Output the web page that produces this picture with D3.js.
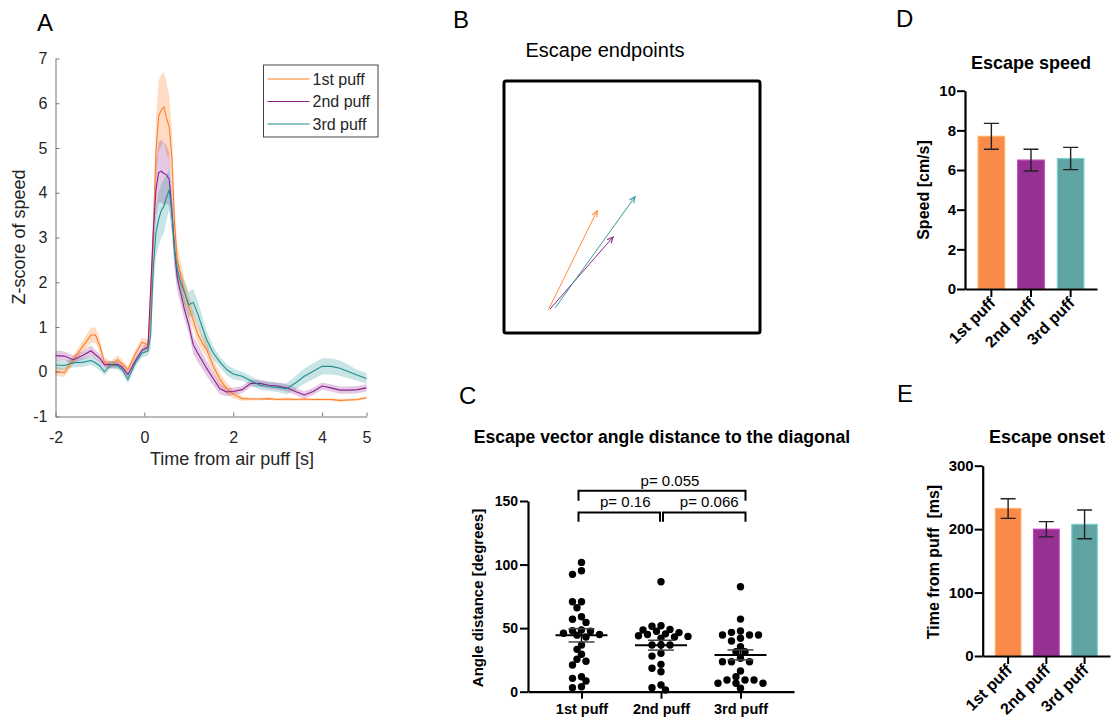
<!DOCTYPE html>
<html>
<head>
<meta charset="utf-8">
<script src="https://cdn.jsdelivr.net/npm/d3@7"></script>
<style>
  body { margin: 0; background: #fff; }
  text { font-family: "Liberation Sans", Arial, sans-serif; }
</style>
</head>
<body>
<div id="chart"></div>
<script>
// ---- data ----
const puffs = ["1st puff", "2nd puff", "3rd puff"];

// panel A: z-scored speed around the air puff (mean and sem per puff)
const time = [-2, -1.8, -1.6, -1.4, -1.2, -1.1, -1.0, -0.9, -0.75, -0.6, -0.5, -0.37, -0.2, -0.05, 0.08, 0.14,
              0.2, 0.26, 0.32, 0.38, 0.44, 0.5, 0.56, 0.62, 0.68, 0.74, 0.8, 0.9, 1.0, 1.1, 1.2, 1.3, 1.4, 1.55,
              1.7, 1.85, 2.0, 2.2, 2.4, 2.6, 2.8, 3.0, 3.2, 3.4, 3.6, 3.8, 4.0, 4.2, 4.4, 4.6, 4.8, 5.0];
const zPuff1 = [0.01, -0.02, 0.27, 0.55, 0.82, 0.82, 0.57, 0.22, 0.16, 0.27, 0.18, 0.05, 0.40, 0.66, 0.60, 1.20,
                3.00, 4.90, 5.70, 5.85, 5.92, 5.66, 5.47, 4.80, 3.30, 2.50, 2.24, 1.80, 1.45, 1.16, 0.85, 0.65, 0.50, 0.13,
                -0.17, -0.37, -0.50, -0.60, -0.61, -0.61, -0.60, -0.62, -0.61, -0.62, -0.61, -0.62, -0.62, -0.62, -0.64, -0.63, -0.62, -0.58];
const semPuff1 = [0.10, 0.10, 0.10, 0.12, 0.17, 0.17, 0.15, 0.10, 0.08, 0.10, 0.08, 0.08, 0.10, 0.10, 0.12, 0.30,
                  0.50, 0.70, 0.80, 0.80, 0.78, 0.80, 0.70, 0.60, 0.45, 0.35, 0.30, 0.28, 0.25, 0.22, 0.20, 0.18, 0.17, 0.15,
                  0.15, 0.13, 0.10, 0.05, 0.03, 0.03, 0.03, 0.03, 0.03, 0.03, 0.03, 0.03, 0.03, 0.03, 0.03, 0.03, 0.03, 0.03];
const zPuff2 = [0.36, 0.35, 0.27, 0.36, 0.47, 0.38, 0.30, 0.16, 0.16, 0.16, 0.10, -0.06, 0.25, 0.48, 0.55, 1.80,
                3.10, 4.05, 4.45, 4.48, 4.43, 4.40, 4.30, 3.60, 2.70, 2.10, 1.83, 1.40, 1.05, 0.60, 0.42, 0.25, 0.08, -0.15,
                -0.38, -0.45, -0.44, -0.40, -0.26, -0.26, -0.30, -0.32, -0.36, -0.44, -0.52, -0.44, -0.32, -0.36, -0.41, -0.41, -0.40, -0.36];
const semPuff2 = [0.12, 0.10, 0.10, 0.10, 0.12, 0.10, 0.10, 0.08, 0.08, 0.08, 0.08, 0.08, 0.08, 0.08, 0.10, 0.30,
                  0.50, 0.60, 0.68, 0.70, 0.70, 0.65, 0.60, 0.50, 0.40, 0.30, 0.25, 0.22, 0.20, 0.20, 0.20, 0.18, 0.17, 0.15,
                  0.12, 0.10, 0.08, 0.08, 0.08, 0.08, 0.08, 0.08, 0.08, 0.08, 0.08, 0.08, 0.08, 0.08, 0.08, 0.08, 0.08, 0.08];
const zPuff3 = [0.15, 0.14, 0.20, 0.21, 0.25, 0.20, 0.13, 0.00, 0.16, 0.13, 0.05, -0.17, 0.20, 0.42, 0.46, 0.80,
                2.30, 3.10, 3.40, 3.60, 3.70, 3.90, 4.07, 3.54, 2.70, 2.30, 2.05, 1.78, 1.50, 1.55, 1.30, 1.00, 0.72, 0.42,
                0.22, 0.05, -0.05, -0.10, -0.20, -0.30, -0.33, -0.35, -0.38, -0.25, -0.10, 0.01, 0.12, 0.12, 0.08, 0.00, -0.08, -0.15];
const semPuff3 = [0.10, 0.10, 0.10, 0.10, 0.10, 0.10, 0.10, 0.08, 0.08, 0.08, 0.08, 0.10, 0.10, 0.10, 0.10, 0.30,
                  0.50, 0.55, 0.60, 0.60, 0.60, 0.50, 0.45, 0.40, 0.35, 0.30, 0.25, 0.25, 0.28, 0.30, 0.28, 0.25, 0.20, 0.15,
                  0.12, 0.12, 0.12, 0.10, 0.10, 0.10, 0.10, 0.10, 0.12, 0.15, 0.17, 0.18, 0.18, 0.18, 0.17, 0.15, 0.12, 0.12];

// panel B: mean escape vectors in arena coordinates (0..1)
const startX = [0.173, 0.180, 0.200];
const startY = [0.091, 0.095, 0.100];
const endX = [0.364, 0.426, 0.512];
const endY = [0.485, 0.381, 0.541];

// panel C: angle distance to the diagonal, one value per escape
const angle1 = [101.7, 95.1, 92.3, 70.7, 70.7, 66, 59, 57, 54.5, 48.5, 48, 47.5, 46, 45, 44.5, 43,
                36.7, 33.3, 29.4, 25.5, 24, 21, 11.8, 10.5, 8.4, 3.9, 3.1];
const angle2 = [86.5, 51.9, 51.5, 49, 48.5, 47.5, 46.5, 45.5, 45, 44, 43.5, 43, 42, 36.7, 36.7, 36.7,
                30.2, 28, 21.5, 18.4, 15.7, 5.3, 3.1, 1.3];
const angle3 = [82.5, 57.1, 47.7, 46.7, 44.6, 44.6, 44.6, 42, 39.9, 35.4, 31.5, 31.5, 26.3, 23.6, 23.6, 23.6,
                16.3, 11.8, 9.2, 9.2, 9.2, 6.6, 6.6, 6.6, 2.7];
const pLabels = ["p= 0.16", "p= 0.066", "p= 0.055"];

// panels D and E: bars with sem
const speedMean = [7.7, 6.5, 6.58];
const speedSem = [0.65, 0.55, 0.56];
const onsetMean = [232.5, 199.8, 207.5];
const onsetSem = [15.5, 12, 22.6];

const lineColors = ["#FF7F27", "#8E1F8E", "#1F9090"];
const arrowColors = ["#FF8C42", "#8B2A8B", "#3A9A9A"];
const barColors = ["#F98A4A", "#963192", "#5FA4A2"];

// ---- svg ----
const svg = d3.select("#chart")
              .append("svg")
              .attr("width", 1112)
              .attr("height", 719);

function panelLetter(txt, x, y) {
    svg.append("text")
       .attr("x", x).attr("y", y)
       .style("font-size", "24px")
       .text(txt);
}
panelLetter("A", 37, 31);
panelLetter("B", 453, 28);
panelLetter("C", 459, 404);
panelLetter("D", 896, 27);
panelLetter("E", 897, 402);

// ---- panel A ----
const xA = d3.scaleLinear().domain([-2, 5]).range([55.5, 366.5]);
const yA = d3.scaleLinear().domain([-1, 7]).range([416.5, 58.5]);
const gA = svg.append("g");
const seriesA = [[zPuff1, semPuff1], [zPuff2, semPuff2], [zPuff3, semPuff3]];

const band = d3.area()
               .x(d => xA(d.t))
               .y0(d => yA(d.m - d.s))
               .y1(d => yA(d.m + d.s));
const trace = d3.line()
                .x(d => xA(d.t))
                .y(d => yA(d.m));
const rows = seriesA.map(s => time.map((t, i) => ({t: t, m: s[0][i], s: s[1][i]})));

gA.selectAll(".band")
  .data(rows)
  .enter()
  .append("path")
  .attr("class", "band")
  .attr("d", band)
  .attr("fill", (d, i) => lineColors[i])
  .attr("fill-opacity", (d, i) => i == 0 ? 0.28 : 0.24);
gA.selectAll(".trace")
  .data(rows)
  .enter()
  .append("path")
  .attr("class", "trace")
  .attr("d", trace)
  .attr("fill", "none")
  .attr("stroke", (d, i) => lineColors[i])
  .attr("stroke-width", 1.1);

const axA = gA.append("g")
              .attr("transform", "translate(0," + yA(-1) + ")")
              .call(d3.axisBottom(xA).tickValues([-2, 0, 2, 4, 5]).tickFormat(d => String(d))
                      .tickSizeInner(-4).tickSizeOuter(0).tickPadding(15));
const ayA = gA.append("g")
              .attr("transform", "translate(" + xA(-2) + ",0)")
              .call(d3.axisLeft(yA).tickValues(d3.range(-1, 8)).tickFormat(d => String(d))
                      .tickSizeInner(-4).tickSizeOuter(0).tickPadding(8));
[axA, ayA].forEach(a => {
    a.select(".domain").attr("stroke", "#777");
    a.selectAll(".tick line").attr("stroke", "#777");
    a.selectAll("text").style("font-size", "16px").attr("fill", "#262626");
});
gA.append("text")
  .attr("x", 232).attr("y", 465)
  .attr("text-anchor", "middle")
  .style("font-size", "18px")
  .attr("fill", "#262626")
  .text("Time from air puff [s]");
gA.append("text")
  .attr("transform", "translate(25,237) rotate(-90)")
  .attr("text-anchor", "middle")
  .style("font-size", "18px")
  .attr("fill", "#262626")
  .text("Z-score of speed");

// legend
const leg = gA.append("g").attr("transform", "translate(263.5,65)");
leg.append("rect")
   .attr("width", 114.5).attr("height", 72)
   .attr("fill", "#fff").attr("stroke", "#444").attr("stroke-width", 1);
puffs.forEach((p, i) => {
    leg.append("line")
       .attr("x1", 4).attr("x2", 46)
       .attr("y1", 14 + i * 22.5).attr("y2", 14 + i * 22.5)
       .attr("stroke", lineColors[i]).attr("stroke-width", 1.2);
    leg.append("text")
       .attr("x", 49).attr("y", 14 + i * 22.5)
       .attr("dy", "0.36em")
       .style("font-size", "16px")
       .attr("fill", "#262626")
       .text(p);
});

// ---- panel B ----
const xB = d3.scaleLinear().domain([0, 1]).range([504, 760]);
const yB = d3.scaleLinear().domain([0, 1]).range([333, 81]);
svg.append("text")
   .attr("x", 605).attr("y", 57)
   .attr("text-anchor", "middle")
   .style("font-size", "20px")
   .text("Escape endpoints");
svg.append("rect")
   .attr("x", xB(0)).attr("y", yB(1))
   .attr("width", xB(1) - xB(0)).attr("height", yB(0) - yB(1))
   .attr("rx", 2)
   .attr("fill", "none").attr("stroke", "#000").attr("stroke-width", 3);
const defs = svg.append("defs");
arrowColors.forEach((c, i) => {
    defs.append("marker")
        .attr("id", "head" + i)
        .attr("viewBox", "-8 -4 10 8")
        .attr("refX", 0).attr("refY", 0)
        .attr("markerWidth", 10).attr("markerHeight", 8)
        .attr("markerUnits", "userSpaceOnUse")
        .attr("orient", "auto")
        .append("path")
        .attr("d", "M-6,-2.6 L0,0 L-6,2.6")
        .attr("fill", "none")
        .attr("stroke", c)
        .attr("stroke-width", 1.1);
});
svg.selectAll(".vec")
   .data(puffs)
   .enter()
   .append("line")
   .attr("class", "vec")
   .attr("x1", (d, i) => xB(startX[i]))
   .attr("y1", (d, i) => yB(startY[i]))
   .attr("x2", (d, i) => xB(endX[i]))
   .attr("y2", (d, i) => yB(endY[i]))
   .attr("stroke", (d, i) => arrowColors[i])
   .attr("stroke-width", 1)
   .attr("marker-end", (d, i) => "url(#head" + i + ")");

// ---- panel C ----
const xC = d3.scalePoint().domain(puffs).range([528, 794]).padding(0.673);
const yC = d3.scaleLinear().domain([0, 150]).range([691.7, 501]);
const gC = svg.append("g");
gC.append("text")
  .attr("x", 662).attr("y", 443)
  .attr("text-anchor", "middle")
  .style("font-size", "17.6px").style("font-weight", "bold")
  .text("Escape vector angle distance to the diagonal");

function styleBold(a, size) {
    a.select(".domain").attr("stroke", "#000").attr("stroke-width", 2.2);
    a.selectAll(".tick line").attr("stroke", "#000").attr("stroke-width", 2);
    a.selectAll("text").style("font-size", size).style("font-weight", "bold").attr("fill", "#000");
}
const ayC = gC.append("g")
              .attr("transform", "translate(528,0)")
              .call(d3.axisLeft(yC).tickValues([0, 50, 100, 150]).tickSize(8).tickSizeOuter(0).tickPadding(2));
styleBold(ayC, "14px");
const axC = gC.append("g")
              .attr("transform", "translate(0," + yC(0) + ")")
              .call(d3.axisBottom(xC).tickSize(7).tickSizeOuter(0).tickPadding(5));
styleBold(axC, "14.5px");
gC.append("text")
  .attr("transform", "translate(483,598) rotate(-90)")
  .attr("text-anchor", "middle")
  .style("font-size", "15px").style("font-weight", "bold")
  .text("Angle distance [degrees]");

// beeswarm: push each dot sideways until it overlaps its neighbours only a little
const dotR = 3.7;
const groups = [angle1, angle2, angle3];
groups.forEach((vals, gi) => {
    const cx = xC(puffs[gi]);
    const placed = [];
    vals.slice().sort((a, b) => b - a).forEach(v => {
        const py = yC(v);
        for (let k = 0; k < 40; k++) {
            const off = (k % 2 == 0 ? 1 : -1) * Math.ceil(k / 2) * 4.5;
            const ok = placed.every(p => Math.hypot(p.x - (cx + off), p.y - py) >= 2 * dotR - 1.2);
            if (ok) { placed.push({x: cx + off, y: py}); break; }
        }
    });
    gC.selectAll(".dot" + gi)
      .data(placed)
      .enter()
      .append("circle")
      .attr("class", "dot" + gi)
      .attr("cx", d => d.x).attr("cy", d => d.y)
      .attr("r", dotR)
      .attr("fill", "#000");

    const m = d3.mean(vals);
    const se = d3.deviation(vals) / Math.sqrt(vals.length);
    gC.append("line")
      .attr("x1", cx - 26).attr("x2", cx + 26)
      .attr("y1", yC(m)).attr("y2", yC(m))
      .attr("stroke", "#000").attr("stroke-width", 2);
    gC.append("line")
      .attr("x1", cx).attr("x2", cx)
      .attr("y1", yC(m - se)).attr("y2", yC(m + se))
      .attr("stroke", "#000").attr("stroke-width", 1.5);
    [m - se, m + se].forEach(v => {
        gC.append("line")
          .attr("x1", cx - 13).attr("x2", cx + 13)
          .attr("y1", yC(v)).attr("y2", yC(v))
          .attr("stroke", "#444").attr("stroke-width", 1.5);
    });
});

// significance brackets
const brackets = [
    {a: 0, b: 1, level: 141, drop: 7.4, dx0: -3, dx1: -1, tx: 6},
    {a: 1, b: 2, level: 141, drop: 7.4, dx0: 2, dx1: 5, tx: 5},
    {a: 0, b: 2, level: 158, drop: 7.8, dx0: -3, dx1: 5, tx: 8}
];
brackets.forEach((br, i) => {
    const x0 = xC(puffs[br.a]) + br.dx0, x1 = xC(puffs[br.b]) + br.dx1;
    const y0 = yC(br.level), y1 = yC(br.level - br.drop);
    gC.append("path")
      .attr("d", "M" + x0 + "," + y1 + "V" + y0 + "H" + x1 + "V" + y1)
      .attr("fill", "none").attr("stroke", "#000").attr("stroke-width", 2);
    gC.append("text")
      .attr("x", (x0 + x1) / 2 + br.tx).attr("y", y0 - 5)
      .attr("text-anchor", "middle")
      .style("font-size", "15px")
      .text(pLabels[i]);
});

// ---- panels D and E ----
function barPanel(opt) {
    const g = svg.append("g");
    const x = d3.scaleBand().domain(puffs).range(opt.xr).paddingInner(0.33).paddingOuter(0.33);
    const y = d3.scaleLinear().domain(opt.dom).range(opt.yr);
    g.append("text")
     .attr("x", opt.titleX).attr("y", opt.titleY)
     .attr("text-anchor", "middle")
     .style("font-size", "18px").style("font-weight", "bold")
     .text(opt.title);
    g.selectAll(".bar")
     .data(opt.mean)
     .enter()
     .append("rect")
     .attr("class", "bar")
     .attr("x", (d, i) => x(puffs[i]))
     .attr("y", d => y(d))
     .attr("width", x.bandwidth())
     .attr("height", d => y(0) - y(d))
     .attr("fill", (d, i) => barColors[i])
     .attr("stroke", (d, i) => d3.color(barColors[i]).brighter(0.7))
     .attr("stroke-width", 1.2);
    opt.mean.forEach((m, i) => {
        const cx = x(puffs[i]) + x.bandwidth() / 2;
        const lo = y(m - opt.sem[i]), hi = y(m + opt.sem[i]);
        g.append("path")
         .attr("d", "M" + cx + "," + lo + "V" + hi + "M" + (cx - 7.5) + "," + hi + "H" + (cx + 7.5) +
                    "M" + (cx - 7.5) + "," + lo + "H" + (cx + 7.5))
         .attr("fill", "none").attr("stroke", "#222").attr("stroke-width", 1.4);
    });
    const ay = g.append("g")
                .attr("transform", "translate(" + opt.xr[0] + ",0)")
                .call(d3.axisLeft(y).tickValues(opt.ticks).tickSize(8).tickSizeOuter(0).tickPadding(1));
    styleBold(ay, "15px");
    const ax = g.append("g")
                .attr("transform", "translate(0," + y(0) + ")")
                .call(d3.axisBottom(x).tickSize(8).tickSizeOuter(0));
    styleBold(ax, "16px");
    ax.selectAll("text")
      .attr("x", 0).attr("y", 0).attr("dy", 0)
      .attr("transform", "translate(5,15) rotate(-45)")
      .style("text-anchor", "end");
    g.append("text")
     .attr("transform", "translate(" + opt.labelX + "," + opt.labelY + ") rotate(-90)")
     .attr("text-anchor", "middle")
     .style("font-size", "16px").style("font-weight", "bold")
     .style("white-space", "pre")
     .text(opt.label);
}
barPanel({title: "Escape speed", titleX: 1031, titleY: 69,
          xr: [965, 1097], yr: [289, 90.7], dom: [0, 10], ticks: [0, 2, 4, 6, 8, 10],
          mean: speedMean, sem: speedSem, label: "Speed [cm/s]", labelX: 929, labelY: 190});
barPanel({title: "Escape onset", titleX: 1047, titleY: 443,
          xr: [982.7, 1110], yr: [656, 465.7], dom: [0, 300], ticks: [0, 100, 200, 300],
          mean: onsetMean, sem: onsetSem, label: "Time from puff  [ms]", labelX: 939, labelY: 562});
</script>
</body>
</html>
